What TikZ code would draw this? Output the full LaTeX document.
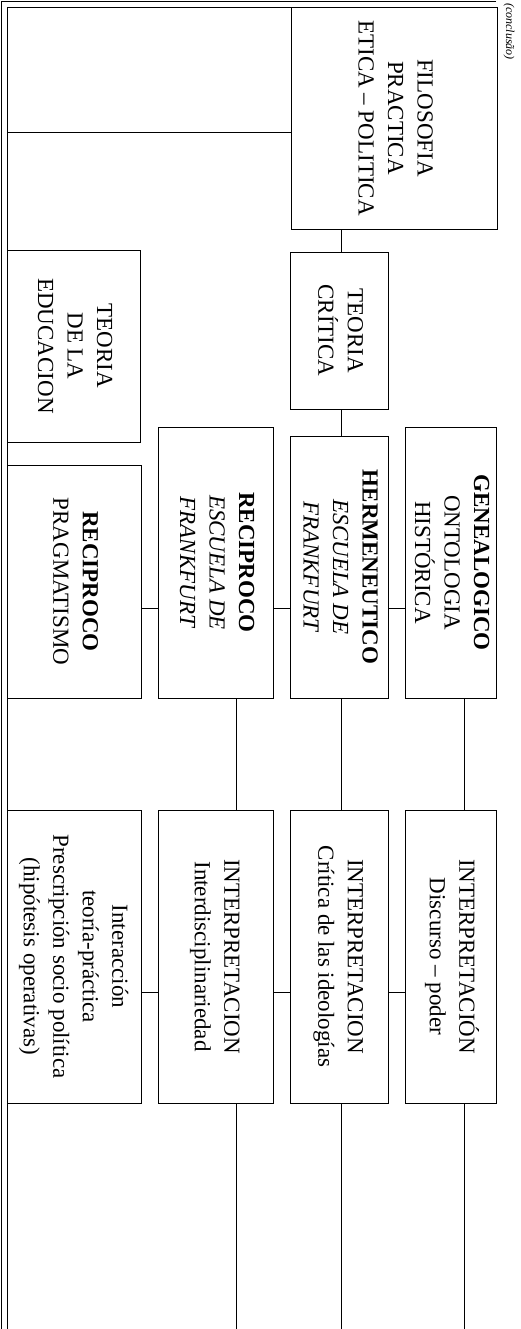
\documentclass[tikz,border=0pt]{standalone}
\usepackage{fontspec}
\setmainfont{Liberation Serif}
\usepackage{graphicx}
\usetikzlibrary{positioning}
\tikzset{
  box/.style={draw, rectangle, line width=0.9pt, inner sep=0pt, font=\fontsize{23}{29.5}\selectfont},
  connect/.style={line width=0.9pt},
  frame/.style={line width=0.9pt}
}
\newcommand{\vtext}[1]{\rotatebox{-90}{\begin{tabular}{@{}c@{}}#1\end{tabular}}}

\begin{document}
\begin{tikzpicture}[x=1pt, y=-1pt]
  \useasboundingbox (0,0) rectangle (520,1329);

  % Frame (double rule)
  \draw[frame] (496,1.7) -- (1.7,1.7) -- (1.7,1329);
  \draw[frame] (496,7) -- (7,7) -- (7,1329);
  \node[rotate=-90, anchor=west, inner sep=0pt, font=\fontsize{12}{14}\selectfont\itshape] (concl) at (509,3) {(conclusão)};

  % Top level
  \node[box, minimum width=206, minimum height=222] (filo) at (394,118) {\vtext{FILOSOFIA\\PRACTICA\\ETICA -- POLITICA}};
  \node[box, minimum width=98, minimum height=157] (crit) at (339,330.5) {\vtext{TEORIA\\CRÍTICA}};
  \node[box, minimum width=133, minimum height=192] (edu) at (73.5,346) {\vtext{TEORIA\\DE LA\\EDUCACION}};

  % Second row
  \node[box, minimum width=91, minimum height=271] (gen) at (450.5,562.5) {\vtext{\textbf{GENEALOGICO}\\ONTOLOGIA\\HISTÓRICA}};
  \node[box, minimum width=98, minimum height=262] (herm) at (339,567) {\vtext{\textbf{HERMENEUTICO}\\\textit{ESCUELA DE}\\\textit{FRANKFURT}}};
  \node[box, minimum width=115, minimum height=271] (recf) at (215.5,562.5) {\vtext{\textbf{RECIPROCO}\\\textit{ESCUELA DE}\\\textit{FRANKFURT}}};
  \node[box, minimum width=134, minimum height=233] (prag) at (74,581.5) {\vtext{\textbf{RECIPROCO}\\PRAGMATISMO}};

  % Third row
  \node[box, minimum width=91, minimum height=293] (inta) at (450.5,956.5) {\vtext{INTERPRETACIÓN\\Discurso -- poder}};
  \node[box, minimum width=98, minimum height=293] (intb) at (339,956.5) {\vtext{INTERPRETACION\\Crítica de las ideologías}};
  \node[box, minimum width=115, minimum height=293] (intc) at (215.5,956.5) {\vtext{INTERPRETACION\\Interdisciplinariedad}};
  \node[box, minimum width=134, minimum height=293] (intd) at (74,956.5) {\vtext{Interacción\\teoría-práctica\\Prescripción socio política\\(hipótesis operativas)}};

  % Helper coordinates
  \coordinate (h1) at (7,132);
  \coordinate (h2) at (0,608);
  \coordinate (h3) at (0,992);
  \coordinate (enda) at (464,1329);
  \coordinate (endb) at (341,1329);
  \coordinate (endc) at (236,1329);

  % Connectors
  \draw[connect] (h1) -- (h1 -| filo.west);
  \draw[connect] (filo.south -| endb) -- (crit.north -| endb);
  \draw[connect] (crit.south -| endb) -- (herm.north -| endb);

  \draw[connect] (prag.east |- h2) -- (recf.west |- h2);
  \draw[connect] (recf.east |- h2) -- (herm.west |- h2);
  \draw[connect] (herm.east |- h2) -- (gen.west |- h2);

  \draw[connect] (gen.south -| enda) -- (inta.north -| enda);
  \draw[connect] (herm.south -| endb) -- (intb.north -| endb);
  \draw[connect] (recf.south -| endc) -- (intc.north -| endc);

  \draw[connect] (intd.east |- h3) -- (intc.west |- h3);
  \draw[connect] (intc.east |- h3) -- (intb.west |- h3);
  \draw[connect] (intb.east |- h3) -- (inta.west |- h3);

  \draw[connect] (inta.south -| enda) -- (enda);
  \draw[connect] (intb.south -| endb) -- (endb);
  \draw[connect] (intc.south -| endc) -- (endc);

\end{tikzpicture}
\end{document}
